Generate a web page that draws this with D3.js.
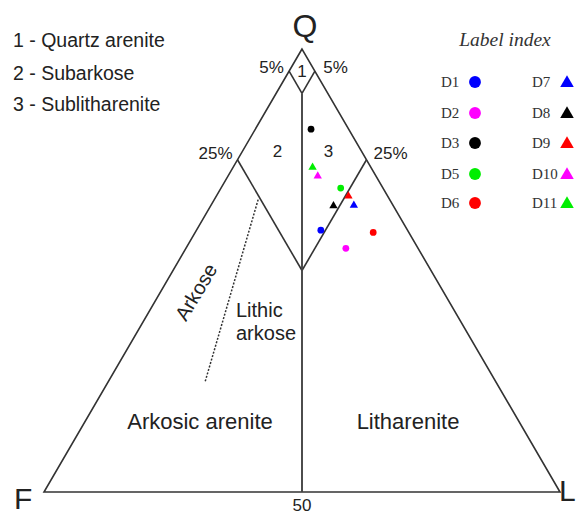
<!DOCTYPE html>
<html><head><meta charset="utf-8">
<script src="https://cdn.jsdelivr.net/npm/d3@7/dist/d3.min.js"></script>
<style>html,body{margin:0;padding:0;background:#fff;}svg{display:block;}</style>
</head><body>
<svg id="chart" width="577" height="514"></svg>
<script>
// ---- data (percentages Q, F, L) ----
const samples = ["D1","D2","D3","D5","D6","D7","D8","D9","D10","D11"];
const qVals = [59.1, 55.0, 81.9, 68.6, 58.6, 64.7, 64.6, 66.8, 71.3, 73.3];
const fVals = [16.8, 14.0,  7.3,  8.2,  6.9,  7.6, 11.6,  7.6, 11.3, 11.3];
const lVals = [24.1, 31.0, 10.8, 23.2, 34.5, 27.7, 23.8, 25.6, 17.4, 15.4];
const shapes = ["circle","circle","circle","circle","circle","triangle","triangle","triangle","triangle","triangle"];
const colors = ["#0000ff","#ff00ff","#000000","#00ee00","#ff0000","#0000ff","#000000","#ff0000","#ff00ff","#00ee00"];

const legendCol1 = ["D1","D2","D3","D5","D6"];
const legendCol2 = ["D7","D8","D9","D10","D11"];
const classNames = ["1 - Quartz arenite","2 - Subarkose","3 - Sublitharenite"];

// field boundary segments, endpoints as [Q,F,L]
const fieldLines = [
  [[95,5,0],[90,5,5]],
  [[95,0,5],[90,5,5]],
  [[75,25,0],[50,25,25]],
  [[75,0,25],[50,25,25]],
];
const centerLine = [[90,5,5],[0,50,50]];
const arkoseLine = [[66,25.5,8.5],[25,56.25,18.75]];

const svg = d3.select("#chart");
const sans = "'Liberation Sans', Arial, sans-serif";
const serif = "'Liberation Serif', 'Times New Roman', serif";

const xs = d3.scaleLinear().domain([0,1]).range([44,560]);
const ys = d3.scaleLinear().domain([0,1]).range([492,49]);
function pos(p){
  const s = p[0]+p[1]+p[2];
  const q = p[0]/s, l = p[2]/s;
  return [xs(l + q/2), ys(q)];
}
const line = d3.line();

// outer triangle
svg.append("path")
  .attr("d", line([pos([100,0,0]),pos([0,100,0]),pos([0,0,100])]) + "Z")
  .attr("fill","none").attr("stroke","#333").attr("stroke-width",1.6).attr("stroke-linejoin","miter");

fieldLines.forEach(seg=>{
  svg.append("path").attr("d", line(seg.map(pos)))
    .attr("fill","none").attr("stroke","#333").attr("stroke-width",1.6);
});
svg.append("path").attr("d", line(centerLine.map(pos)))
  .attr("fill","none").attr("stroke","#444").attr("stroke-width",1.9);
svg.append("path").attr("d", line(arkoseLine.map(pos)))
  .attr("fill","none").attr("stroke","#333").attr("stroke-width",1.5).attr("stroke-dasharray","2,1.6");

// apex labels
svg.append("text").attr("x",305).attr("y",37).attr("text-anchor","middle")
  .attr("font-family",sans).attr("font-size",32).attr("fill","#222").text("Q");
svg.append("text").attr("x",14).attr("y",509)
  .attr("font-family",sans).attr("font-size",30).attr("fill","#222").text("F");
svg.append("text").attr("x",559).attr("y",501)
  .attr("font-family",sans).attr("font-size",30).attr("fill","#222").text("L");
svg.append("text").attr("x",302).attr("y",511).attr("text-anchor","middle")
  .attr("font-family",sans).attr("font-size",17).attr("fill","#222").text("50");

// percent labels
const pctLabels = [["5%",271.5,67],["5%",335.5,67],["25%",215.5,153],["25%",390.5,153],["1",302,71],["2",277.5,151],["3",328.5,151]];
pctLabels.forEach(d=>{
  svg.append("text").attr("x",d[1]).attr("y",d[2]).attr("text-anchor","middle")
    .attr("dominant-baseline","central")
    .attr("font-family",sans).attr("font-size",17).attr("fill","#222").text(d[0]);
});

// class list
classNames.forEach((t,i)=>{
  svg.append("text").attr("x",13).attr("y",[47,80,111][i])
    .attr("font-family",sans).attr("font-size",19.5).attr("fill","#222").text(t);
});

// field names
svg.append("text").attr("x",200).attr("y",429).attr("text-anchor","middle")
  .attr("font-family",sans).attr("font-size",22).attr("fill","#222").text("Arkosic arenite");
svg.append("text").attr("x",408).attr("y",429).attr("text-anchor","middle")
  .attr("font-family",sans).attr("font-size",22).attr("fill","#222").text("Litharenite");
svg.append("text").attr("transform","translate(196,292) rotate(-59)").attr("text-anchor","middle")
  .attr("dominant-baseline","central")
  .attr("font-family",sans).attr("font-size",20).attr("fill","#222").text("Arkose");
svg.append("text").attr("x",236).attr("y",317)
  .attr("font-family",sans).attr("font-size",20).attr("fill","#222").text("Lithic");
svg.append("text").attr("x",236).attr("y",340)
  .attr("font-family",sans).attr("font-size",20).attr("fill","#222").text("arkose");

// data points
const sym = {circle: d3.symbolCircle, triangle: d3.symbolTriangle};
const symSize = {circle: 36, triangle: 30};
samples.forEach((s,i)=>{
  const p = pos([qVals[i],fVals[i],lVals[i]]);
  svg.append("path")
    .attr("d", d3.symbol().type(sym[shapes[i]]).size(symSize[shapes[i]])())
    .attr("transform",`translate(${p[0]},${p[1]})`)
    .attr("fill",colors[i]);
});

// legend
svg.append("text").attr("x",505).attr("y",46).attr("text-anchor","middle")
  .attr("font-family",serif).attr("font-style","italic").attr("font-size",19.5).attr("fill","#333").text("Label index");
const rowY = [82,113,143,174,203];
legendCol1.forEach((n,i)=>{
  const k = samples.indexOf(n);
  svg.append("text").attr("x",441).attr("y",rowY[i]+5)
    .attr("font-family",serif).attr("font-size",15).attr("fill","#333").text(n);
  svg.append("path").attr("d", d3.symbol().type(d3.symbolCircle).size(110)())
    .attr("transform",`translate(475,${rowY[i]})`).attr("fill",colors[k]);
});
legendCol2.forEach((n,i)=>{
  const k = samples.indexOf(n);
  svg.append("text").attr("x",532).attr("y",rowY[i]+5)
    .attr("font-family",serif).attr("font-size",15).attr("fill","#333").text(n);
  svg.append("path").attr("d", d3.symbol().type(d3.symbolTriangle).size(80)())
    .attr("transform",`translate(567,${rowY[i]+1})`).attr("fill",colors[k]);
});
</script>
</body></html>
